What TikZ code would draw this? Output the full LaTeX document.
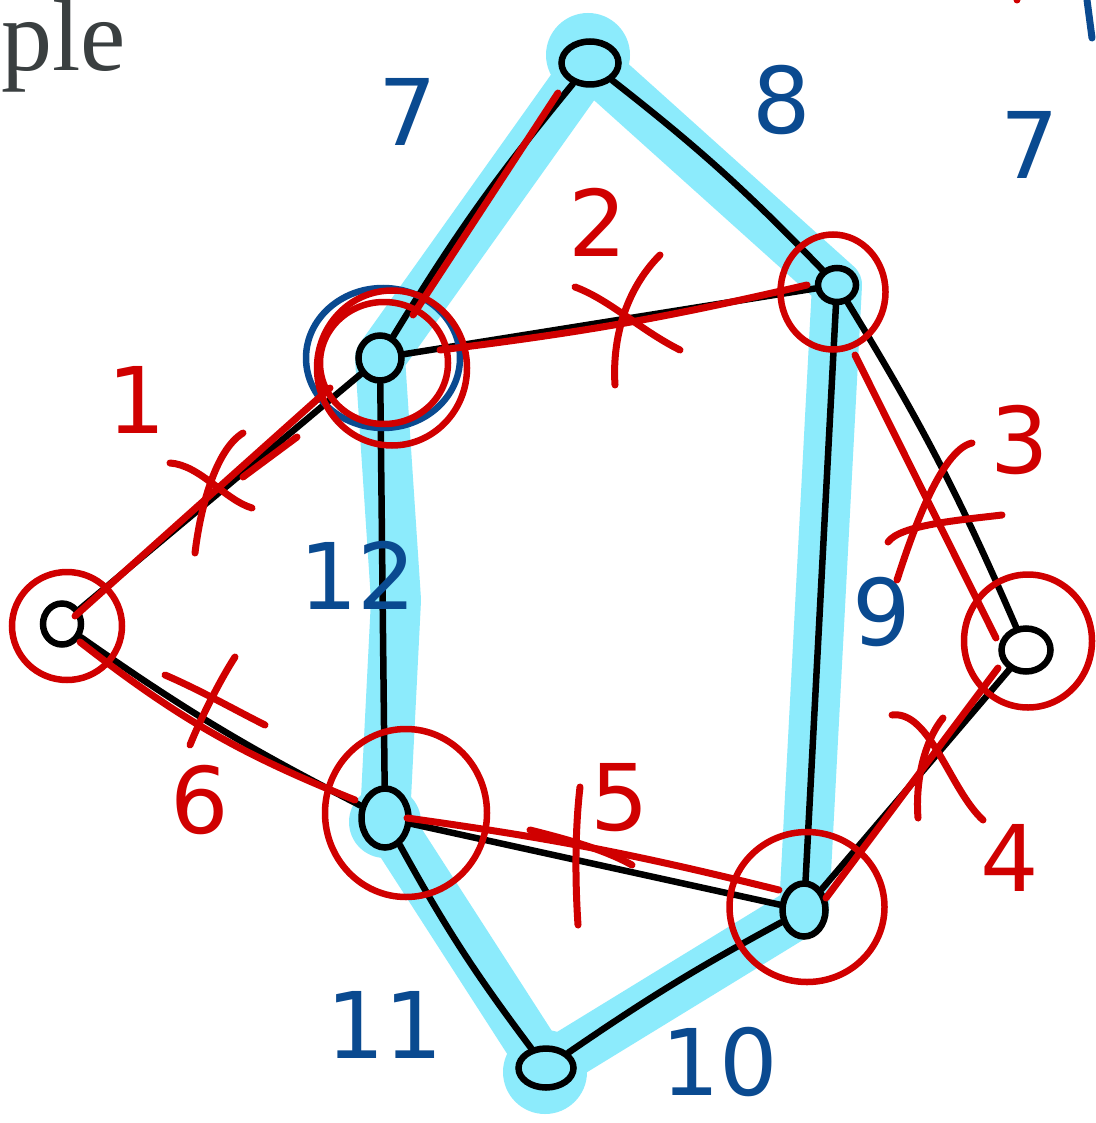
\documentclass[tikz,border=0pt]{standalone}
\usepackage{fontspec}
\setmainfont{Liberation Serif}
\newfontfamily\hand{DejaVu Sans}
\usetikzlibrary{shapes.geometric,calc}
\definecolor{hlc}{RGB}{140,235,252}
\definecolor{pen}{RGB}{10,74,144}
\definecolor{ink}{RGB}{208,0,0}
\definecolor{txtgray}{RGB}{58,63,64}
\begin{document}
\begin{tikzpicture}[x=1pt,y=-1pt,
  vtx/.style={draw=black,line width=6.5pt,ellipse,inner sep=0pt},
  edge/.style={draw=black,line width=6.5pt,line cap=round},
  hl/.style={draw=hlc,line width=50pt,line cap=round,line join=round},
  rline/.style={draw=ink,line width=7pt,line cap=round,line join=round},
  ring/.style={draw=ink,line width=6.5pt,ellipse,inner sep=0pt},
  bring/.style={draw=pen,line width=6.5pt,ellipse,inner sep=0pt},
  blab/.style={text=pen,font=\hand\fontsize{92}{92}\selectfont,inner sep=0pt},
  rlab/.style={text=ink,font=\hand\fontsize{92}{92}\selectfont,inner sep=0pt},
]
\useasboundingbox[fill=white] (0,0) rectangle (1095,1123);
% positions
\coordinate (pT) at (590,63);
\coordinate (pA) at (380,358);
\coordinate (pB) at (837,285);
\coordinate (pL) at (62,624);
\coordinate (pR) at (1026,650);
\coordinate (pC) at (385,818);
\coordinate (pD) at (804,910);
\coordinate (pE) at (546,1068);
% highlight
\draw[hl] (pT) -- (pA) -- (396,600) -- (pC) -- (pE) -- (pD) -- (pB) -- cycle;
\fill[hlc] (588,55) circle[radius=42];
\fill[hlc] (545,1072) circle[radius=42];
\fill[hlc] (385,822) circle[radius=36];
% title fragment
\node[anchor=base west,inner sep=0pt,text=txtgray,font=\fontsize{102}{102}\selectfont] (title) at (1,71) {ple};
% vertices
\node[vtx,minimum width=57pt,minimum height=43pt] (T) at (pT) {};
\node[vtx,minimum width=43pt,minimum height=45pt] (A) at (pA) {};
\node[vtx,minimum width=38pt,minimum height=34pt] (B) at (pB) {};
\node[vtx,minimum width=38pt,minimum height=41pt] (L) at (pL) {};
\node[vtx,minimum width=49pt,minimum height=43pt] (R) at (pR) {};
\node[vtx,minimum width=47pt,minimum height=59pt] (C) at (pC) {};
\node[vtx,minimum width=43pt,minimum height=53pt] (D) at (pD) {};
\node[vtx,minimum width=55pt,minimum height=39pt] (E) at (pE) {};
% black edges
\draw[edge] (T) to[bend right=4] (A);
\draw[edge] (T) to[bend left=4] (B);
\draw[edge] (A) -- (B);
\draw[edge] (A) -- (L);
\draw[edge] (A) -- (C);
\draw[edge] (B) to[bend left=4] (R);
\draw[edge] (B) -- (D);
\draw[edge] (L) to[bend right=4] (C);
\draw[edge] (C) -- (D);
\draw[edge] (C) to[bend right=4] (E);
\draw[edge] (E) to[bend left=3] (D);
\draw[edge] (D) -- (R);
% blue labels
\node[blab] (w7) at (408,112) {7};
\node[blab] (w8) at (782,100) {8};
\node[blab] (w7b) at (1030,145) {7};
\node[blab] (w12) at (358,575) {12};
\node[blab] (w9) at (882,612) {9};
\node[blab] (w11) at (385,1025) {11};
\node[blab] (w10) at (720,1062) {10};
\draw[pen,line width=7pt,line cap=round] (1087,0) -- (1092,38);
% blue ring around A
\node[bring,minimum width=154pt,minimum height=140pt] (bA) at (383,358) {};
% red rings
\node[ring,minimum width=150pt,minimum height=155pt] (rA) at (392,368) {};
\node[ring,minimum width=128pt,minimum height=122pt] (rA2) at (384,363) {};
\node[ring,minimum width=105pt,minimum height=115pt] (rB) at (833,292) {};
\node[ring,minimum width=110pt,minimum height=108pt] (rL) at (67,626) {};
\node[ring,minimum width=128pt,minimum height=133pt] (rR) at (1028,641) {};
\node[ring,minimum width=162pt,minimum height=168pt] (rC) at (406,813) {};
\node[ring,minimum width=155pt,minimum height=150pt] (rD) at (807,907) {};
% red lines along edges
\draw[rline] ($(A)+(33,-43)$) -- ($(T)+(-32,30)$);
\draw[rline] ($(A)+(60,-8)$) to[bend right=3] ($(B)+(-30,0)$);
\draw[rline] ($(L)+(13,-8)$) -- ($(A)+(-50,30)$);
\draw[rline] (243,477) -- (297,437);
\draw[rline] ($(L)+(18,18)$) to[bend right=8] ($(C)+(-30,-18)$);
\draw[rline] ($(C)+(22,0)$) to[bend left=3] ($(D)+(-25,-20)$);
\draw[rline] ($(D)+(22,-12)$) -- ($(R)+(-28,18)$);
\draw[rline] ($(B)+(18,70)$) -- ($(R)+(-30,-12)$);
% crosses
\draw[rline] (575,287) .. controls (610,300) and (640,330) .. (680,350);
\draw[rline] (660,255) .. controls (625,290) and (612,340) .. (615,385);
\draw[rline] (170,463) .. controls (200,465) and (225,500) .. (252,508);
\draw[rline] (243,433) .. controls (215,450) and (200,510) .. (195,553);
\draw[rline] (165,675) .. controls (200,690) and (235,710) .. (265,725);
\draw[rline] (235,657) .. controls (220,680) and (200,720) .. (190,745);
\draw[rline] (580,787) .. controls (575,830) and (575,880) .. (578,925);
\draw[rline] (530,830) .. controls (570,840) and (605,850) .. (632,865);
\draw[rline] (888,542) .. controls (900,525) and (960,520) .. (1002,515);
\draw[rline] (972,443) .. controls (940,450) and (910,540) .. (897,580);
\draw[rline] (892,715) .. controls (930,710) and (950,790) .. (983,820);
\draw[rline] (943,718) .. controls (925,740) and (915,780) .. (918,818);
% red labels
\node[rlab] (w2) at (598,222) {2};
\node[rlab] (w1) at (137,400) {1};
\node[rlab] (w3) at (1020,440) {3};
\node[rlab] (w6) at (200,800) {6};
\node[rlab] (w5) at (620,798) {5};
\node[rlab] (w4) at (1010,858) {4};
\fill[ink] (1017,0) circle[radius=3.5];
\end{tikzpicture}
\end{document}
